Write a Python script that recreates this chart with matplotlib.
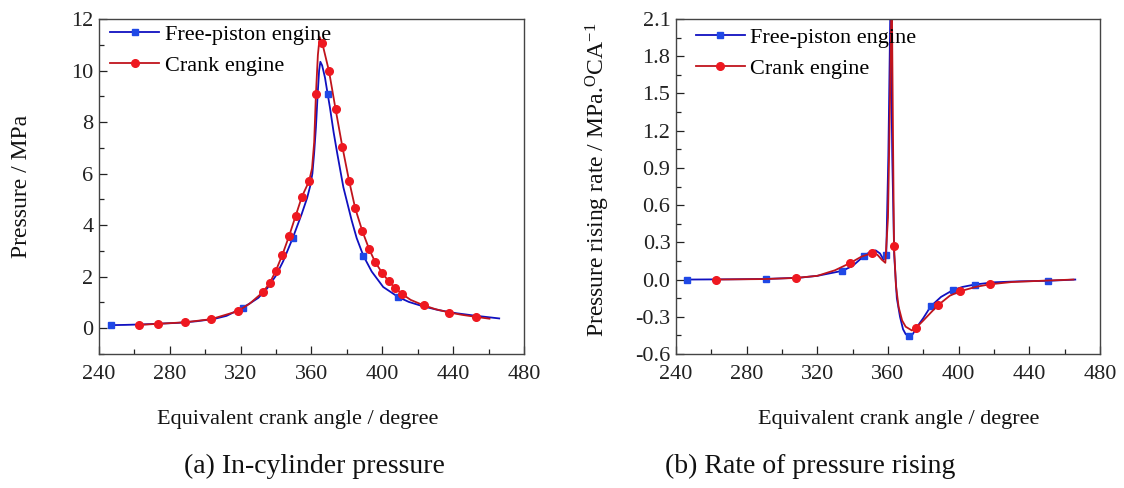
import numpy as np
import matplotlib
matplotlib.use("Agg")
import matplotlib.pyplot as plt
from matplotlib.ticker import MultipleLocator, FormatStrFormatter

plt.rcParams['font.family'] = ['Liberation Serif', 'DejaVu Serif']
plt.rcParams['mathtext.default'] = 'regular'
plt.rcParams['axes.unicode_minus'] = False

# ---------------- data: (a) in-cylinder pressure ----------------
fp_p_x = [246.8, 255, 265, 275, 285, 295, 305, 312, 321.1, 326, 330, 335, 340, 344,
          349.4, 354.5, 357.5, 359.2, 360.5, 361.5, 362.5, 363.5, 364.3, 365, 366,
          367.6, 369.1, 370.4, 372.5, 374.6, 378, 382.7, 385.5, 389.3, 394, 400.5,
          409, 415, 423, 432, 442, 452, 466]
fp_p_y = [0.12, 0.13, 0.15, 0.18, 0.21, 0.27, 0.36, 0.48, 0.79, 1.0, 1.18, 1.55, 2.05, 2.6,
          3.5, 4.44, 5.05, 5.5, 6.0, 6.8, 7.8, 9.1, 10.0, 10.34, 10.2,
          9.73, 9.1, 8.57, 7.6, 6.76, 5.47, 4.18, 3.5, 2.81, 2.2, 1.6,
          1.21, 1.02, 0.85, 0.7, 0.58, 0.49, 0.38]
fp_p_mark_x = [246.8, 321.1, 349.4, 369.1, 389.3, 409]

cr_p_x = [262.8, 273.1, 288.4, 303.2, 318.3, 325, 332.4, 336.4, 339.8, 343.5, 347.3,
          351.1, 354.6, 358.6, 360.3, 361.5, 362.5, 363.6, 364.6, 366.1, 369.9, 373.6,
          377.4, 381.2, 384.7, 388.7, 392.5, 396, 399.8, 403.6, 407.2, 410.9, 416,
          423.3, 430, 437.8, 445, 452.9, 460.5]
cr_p_y = [0.13, 0.17, 0.23, 0.35, 0.66, 0.95, 1.39, 1.75, 2.22, 2.84, 3.57,
          4.37, 5.11, 5.70, 6.2, 7.2, 9.08, 10.6, 11.3, 11.06, 9.97, 8.5,
          7.05, 5.73, 4.65, 3.77, 3.08, 2.56, 2.16, 1.82, 1.57, 1.34, 1.1,
          0.89, 0.74, 0.61, 0.52, 0.44, 0.37]
cr_p_mark_x = [262.8, 273.1, 288.4, 303.2, 318.3, 332.4, 336.4, 339.8, 343.5, 347.3,
               351.1, 354.6, 358.6, 362.5, 366.1, 369.9, 373.6, 377.4, 381.2, 384.7,
               388.7, 392.5, 396, 399.8, 403.6, 407.2, 410.9, 423.3, 437.8, 452.9]

# ---------------- data: (b) rate of pressure rising ----------------
fp_r_x = [246.4, 270, 290.8, 310, 320, 334.1, 340, 346.4, 350, 353, 355.5, 357.5, 359.0,
          360.2, 361.4, 362.4, 363.5, 365, 366.8, 368.5, 370, 371.9, 374, 377, 380,
          384.2, 390, 396.6, 402, 409.1, 420, 435, 450.8, 466]
fp_r_y = [0.0, 0.002, 0.005, 0.015, 0.03, 0.07, 0.11, 0.19, 0.225, 0.235, 0.21, 0.16, 0.197,
          1.0, 2.25, 1.0, 0.2, -0.15, -0.3, -0.40, -0.44, -0.457, -0.44, -0.37, -0.31,
          -0.216, -0.14, -0.086, -0.06, -0.04, -0.022, -0.014, -0.01, 0.0]
fp_r_mark_x = [246.4, 290.8, 334.1, 346.4, 359.0, 371.9, 384.2, 396.6, 409.1, 450.8]

cr_r_x = [262.4, 290, 307.8, 320, 330, 338.4, 345, 351.0, 354, 356.5, 358.5, 360, 361.2,
          362.1, 362.8, 363.4, 364.5, 366, 368, 370, 373.5, 375.6, 380, 384, 388.3, 395,
          400.9, 410, 417.9, 430, 450, 465]
cr_r_y = [0.0, 0.004, 0.013, 0.03, 0.075, 0.132, 0.185, 0.213, 0.2, 0.16, 0.135, 0.5, 1.5,
          2.4, 1.2, 0.267, -0.05, -0.22, -0.33, -0.38, -0.41, -0.393, -0.33, -0.27, -0.207, -0.13,
          -0.094, -0.058, -0.038, -0.02, -0.008, 0.0]
cr_r_mark_x = [262.4, 307.8, 338.4, 351.0, 363.4, 375.6, 388.3, 400.9, 417.9]

labels = ["Free-piston engine", "Crank engine"]

BLUE_L, BLUE_M = '#1010c0', '#1f48e6'
RED_L, RED_M = '#c0141c', '#ee1820'

fig = plt.figure(figsize=(11.24, 4.88), dpi=100)
axa = fig.add_axes([99/1124, 134/488, 425/1124, 335/488])
axb = fig.add_axes([676/1124, 134/488, 424/1124, 335/488])


def draw(ax, x1, y1, m1, x2, y2, m2):
    i1 = [int(np.argmin(np.abs(np.array(x1) - v))) for v in m1]
    i2 = [int(np.argmin(np.abs(np.array(x2) - v))) for v in m2]
    ax.plot(x1, y1, color=BLUE_L, lw=1.3, marker='s', ms=5, mfc=BLUE_M, mec=BLUE_M,
            markevery=i1, label=labels[0])
    ax.plot(x2, y2, color=RED_L, lw=1.3, marker='o', ms=5.5, mfc=RED_M, mec=RED_M,
            markevery=i2, label=labels[1])


draw(axa, fp_p_x, fp_p_y, fp_p_mark_x, cr_p_x, cr_p_y, cr_p_mark_x)
draw(axb, fp_r_x, fp_r_y, fp_r_mark_x, cr_r_x, cr_r_y, cr_r_mark_x)

for ax in (axa, axb):
    ax.set_xlim(240, 480)
    ax.xaxis.set_major_locator(MultipleLocator(40))
    ax.xaxis.set_minor_locator(MultipleLocator(20))
    ax.tick_params(which='both', direction='in', top=False, right=False,
                   labelsize=16, colors='#222222')
    ax.tick_params(axis='x', which='both', pad=8)
    ax.tick_params(axis='y', which='both', pad=4)
    ax.tick_params(which='major', length=6, width=0.9)
    ax.tick_params(which='minor', length=3.5, width=0.9)
    for s in ax.spines.values():
        s.set_color('#444444')
        s.set_linewidth(1.0)
    ax.set_xlabel("Equivalent crank angle / degree", fontsize=16, color='#111111')

axa.set_ylim(-1, 12)
axa.yaxis.set_major_locator(MultipleLocator(2))
axa.yaxis.set_minor_locator(MultipleLocator(1))
axa.set_ylabel("Pressure / MPa", fontsize=17, color='#111111')
axa.yaxis.set_label_coords(-0.157, 0.5)
axa.xaxis.set_label_coords(0.468, -0.167)

axb.set_ylim(-0.6, 2.1)
axb.yaxis.set_major_locator(MultipleLocator(0.3))
axb.yaxis.set_minor_locator(MultipleLocator(0.15))
axb.yaxis.set_major_formatter(FormatStrFormatter('%.1f'))
axb.set_ylabel("Pressure rising rate / MPa.$^{O}$CA$^{-1}$", fontsize=17, color='#111111')
axb.yaxis.set_label_coords(-0.152, 0.52)
axb.xaxis.set_label_coords(0.526, -0.167)

axa.legend(loc='upper left', bbox_to_anchor=(-0.005, 1.025), frameon=False, fontsize=16,
           handlelength=2.2, handletextpad=0.25, labelspacing=0.47, borderaxespad=0.2)
axb.legend(loc='upper left', bbox_to_anchor=(0.015, 1.014), frameon=False, fontsize=16,
           handlelength=2.2, handletextpad=0.25, labelspacing=0.47, borderaxespad=0.2)

fig.text(314/1124, 22/488, "(a) In-cylinder pressure", fontsize=20, ha='center', va='center',
         color='#111111')
fig.text(810/1124, 22/488, "(b) Rate of pressure rising", fontsize=20, ha='center', va='center',
         color='#111111')

fig.savefig("out.png", dpi=100)
